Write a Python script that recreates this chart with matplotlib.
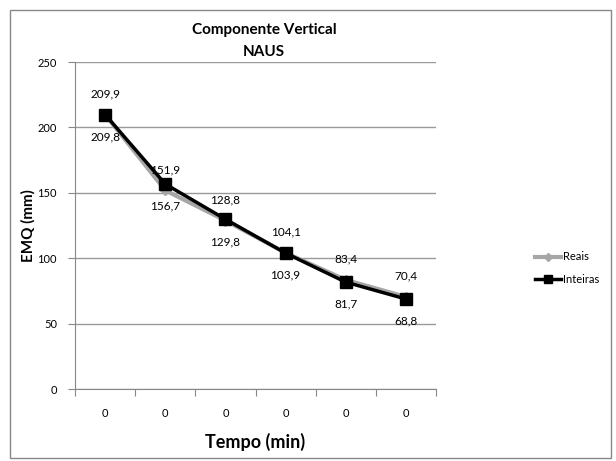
import matplotlib
matplotlib.use("Agg")
import matplotlib.pyplot as plt
from matplotlib.patches import Rectangle

categories = ["0", "0", "0", "0", "0", "0"]
reais = [209.9, 151.9, 128.8, 104.1, 83.4, 70.4]
inteiras = [209.8, 156.7, 129.8, 103.9, 81.7, 68.8]
reais_labels = ["209,9", "151,9", "128,8", "104,1", "83,4", "70,4"]
inteiras_labels = ["209,8", "156,7", "129,8", "103,9", "81,7", "68,8"]
yticks = [0, 50, 100, 150, 200, 250]

plt.rcParams['font.family'] = ['Lato', 'DejaVu Sans']

W, H = 616, 461
fig = plt.figure(figsize=(W / 100, H / 100), dpi=100)
ax = fig.add_axes([75 / W, 1 - 389 / H, (436 - 75) / W, (389 - 62) / H])

x = [i + 0.5 for i in range(len(categories))]
ax.plot(x, reais, color="#A6A6A6", lw=3, marker="D", ms=5, label="Reais", zorder=3)
ax.plot(x, inteiras, color="black", lw=2.5, marker="s", ms=8, label="Inteiras", zorder=4)

for xi, v, t in zip(x, reais, reais_labels):
    ax.annotate(t, (xi, v), xytext=(0, 15), textcoords="offset points",
                ha="center", va="center", fontsize=8.5, color="black")
for xi, v, t in zip(x, inteiras, inteiras_labels):
    ax.annotate(t, (xi, v), xytext=(0, -16), textcoords="offset points",
                ha="center", va="center", fontsize=8.5, color="black")

ax.set_xlim(0, 6)
ax.set_ylim(0, 250)
ax.set_yticks(yticks)
ax.set_yticklabels([str(v) for v in yticks], fontsize=8)
ax.yaxis.grid(True, color="#999999", lw=1)
ax.set_axisbelow(True)

ax.set_xticks(range(0, 7))
ax.set_xticklabels([])
ax.set_xticks(x, minor=True)
ax.set_xticklabels(categories, minor=True, fontsize=8)
ax.tick_params(axis="x", which="minor", length=0, pad=14)
ax.tick_params(axis="x", which="major", length=5, color="#888888", direction="out")
ax.tick_params(axis="y", length=5, color="#888888", direction="out", pad=8)

for s in ["top", "right"]:
    ax.spines[s].set_visible(False)
for s in ["left", "bottom"]:
    ax.spines[s].set_color("#888888")

ax.set_xlabel("Tempo (min)", fontsize=13, fontweight="bold", labelpad=10)
ax.set_ylabel("EMQ (mm)", fontsize=11, fontweight="bold")
ax.yaxis.set_label_coords(-(75 - 36) / (436 - 75), 0.5)

fig.text(264 / W, 1 - 30 / H, "Componente Vertical", ha="center", va="center",
         fontsize=11, fontweight="bold")
fig.text(264 / W, 1 - 52 / H, "NAUS", ha="center", va="center",
         fontsize=11, fontweight="bold")

leg = fig.legend(loc="center left", bbox_to_anchor=(525 / W, 1 - 268 / H),
                 frameon=False, fontsize=8, handlelength=2.3, labelspacing=1.0,
                 handletextpad=0.2, markerscale=0.8)

fig.patches.append(Rectangle((10 / W, 1 - 458 / H), 601 / W, 448 / H,
                             transform=fig.transFigure, fill=False,
                             edgecolor="#888888", lw=1))

fig.savefig("out.png", dpi=100)
